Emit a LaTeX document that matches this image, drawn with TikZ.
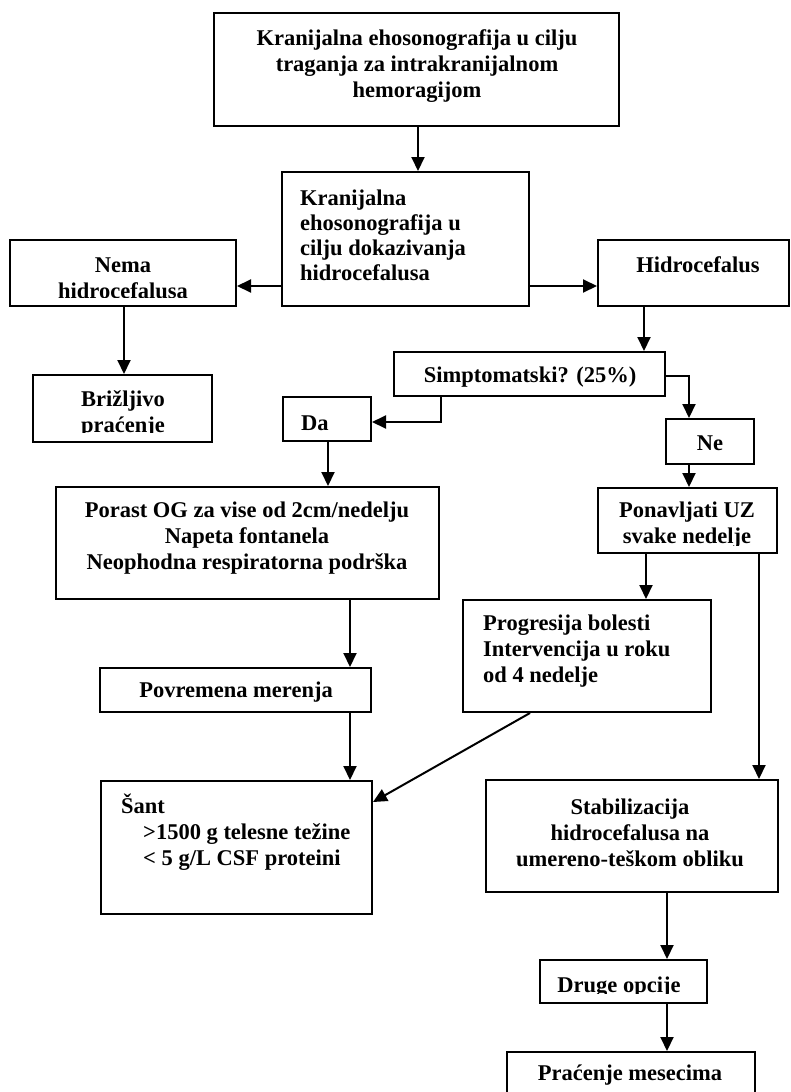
\documentclass[tikz,border=0pt]{standalone}
\usepackage{fontspec}
\setmainfont{Liberation Serif}
\usetikzlibrary{arrows.meta}
\newcommand\mkbox[5]{%
 \pgfmathsetmacro\mybw{#4-#2}\pgfmathsetmacro\mybh{#5-#3}%
 \pgfmathsetmacro\mybx{(#2+#4)/2}\pgfmathsetmacro\myby{(#3+#5)/2}%
 \node[box, minimum width=\mybw pt, minimum height=\mybh pt] (#1) at (\mybx,\myby) {};}
\begin{document}
\begin{tikzpicture}[x=1pt,y=-1pt,
  box/.style={draw, line width=2pt, inner sep=0pt},
  txt/.style={font=\bfseries\fontsize{22.5}{26}\selectfont, inner sep=0pt, align=center},
  ltxt/.style={txt, align=left, anchor=west},
  arr/.style={line width=2pt, -{Triangle[length=14pt,width=13pt]}}]
\useasboundingbox (0,0) rectangle (790,1092);
\clip (0,0) rectangle (790,1092);
% boxes
\mkbox{top}{214}{13}{619}{126}
\mkbox{k2}{282}{172}{529}{306}
\mkbox{nema}{10}{240}{236}{306}
\mkbox{hidro}{598}{240}{789}{306}
\mkbox{briz}{33}{375}{212}{442}
\mkbox{simp}{394}{352}{665}{396}
\mkbox{da}{283}{397}{371}{441}
\mkbox{ne}{666}{419}{754}{464}
\mkbox{pon}{598}{488}{777}{553}
\mkbox{porast}{56}{487}{439}{599}
\mkbox{prog}{463}{600}{711}{712}
\mkbox{povr}{100}{668}{371}{712}
\mkbox{sant}{101}{781}{372}{914}
\mkbox{stab}{486}{780}{778}{892}
\mkbox{druge}{540}{960}{707}{1003}
\mkbox{prac}{507}{1052}{755}{1130}
% texts
\node[txt] (ttop) at (417,66) {Kranijalna ehosonografija u cilju\\traganja za intrakranijalnom\\hemoragijom};
\node[ltxt, font=\bfseries\fontsize{22.5}{25}\selectfont] (tk2) at (300,235) {Kranijalna\\ehosonografija u\\cilju dokazivanja\\hidrocefalusa};
\begin{scope}
\clip (10,240) rectangle (236,297);
\node[txt] (tnema) at (123,278) {Nema\\hidrocefalusa};
\end{scope}
\node[txt] (thidro) at (698,265) {Hidrocefalus};
\begin{scope}
\clip (33,375) rectangle (212,432);
\node[txt] (tbriz) at (123,414) {Brižljivo\\praćenje};
\end{scope}
\node[txt] (tsimp) at (530,377) {Simptomatski? (25\%)};
\node[ltxt] (tda) at (301,423) {Da};
\node[txt] (tne) at (710,443) {Ne};
\begin{scope}
\clip (598,488) rectangle (777,545);
\node[txt] (tpon) at (687,525) {Ponavljati UZ\\svake nedelje};
\end{scope}
\node[txt] (tporast) at (247,538) {Porast OG za vise od 2cm/nedelju\\Napeta fontanela\\Neophodna respiratorna podrška};
\node[ltxt] (tprog) at (483,651) {Progresija bolesti\\Intervencija u roku\\od 4 nedelje};
\begin{scope}
\clip (100,668) rectangle (371,701);
\node[txt] (tpovr) at (236,692) {Povremena merenja};
\end{scope}
\node[ltxt] (tsant) at (121,832) {Šant\\\hspace*{22pt}>1500 g telesne težine\\\hspace*{22pt}< 5 g/L CSF proteini};
\node[txt] (tstab) at (630,833) {Stabilizacija\\hidrocefalusa na\\umereno-teškom obliku};
\begin{scope}
\clip (540,960) rectangle (707,993);
\node[txt] (tdruge) at (619,987) {Druge opcije};
\end{scope}
\node[txt] (tprac) at (630,1075) {Praćenje mesecima};
% connectors
\draw[arr] (top.south -| 418,0) -- (k2.north -| 418,0);
\draw[arr] (k2.west |- 0,286) -- (nema.east |- 0,286);
\draw[arr] (k2.east |- 0,286) -- (hidro.west |- 0,286);
\draw[arr] (hidro.south -| 644,0) -- (simp.north -| 644,0);
\draw[arr] (simp.east |- 0,376) -| (ne.north -| 689,0);
\draw[arr] (ne.south -| 689,0) -- (pon.north -| 689,0);
\draw[arr] (simp.south -| 441,0) |- (da.east |- 0,422);
\draw[arr] (da.south -| 328,0) -- (porast.north -| 328,0);
\draw[arr] (nema.south -| 124,0) -- (briz.north -| 124,0);
\draw[arr] (porast.south -| 350,0) -- (povr.north -| 350,0);
\draw[arr] (povr.south -| 350,0) -- (sant.north -| 350,0);
\draw[arr] (pon.south -| 646,0) -- (prog.north -| 646,0);
\draw[arr] (pon.south -| 759,0) -- (stab.north -| 759,0);
\draw[arr] (prog.south -| 530,0) -- (sant.east |- 0,802);
\draw[arr] (stab.south -| 667,0) -- (druge.north -| 667,0);
\draw[arr] (druge.south -| 667,0) -- (prac.north -| 667,0);
\end{tikzpicture}
\end{document}
